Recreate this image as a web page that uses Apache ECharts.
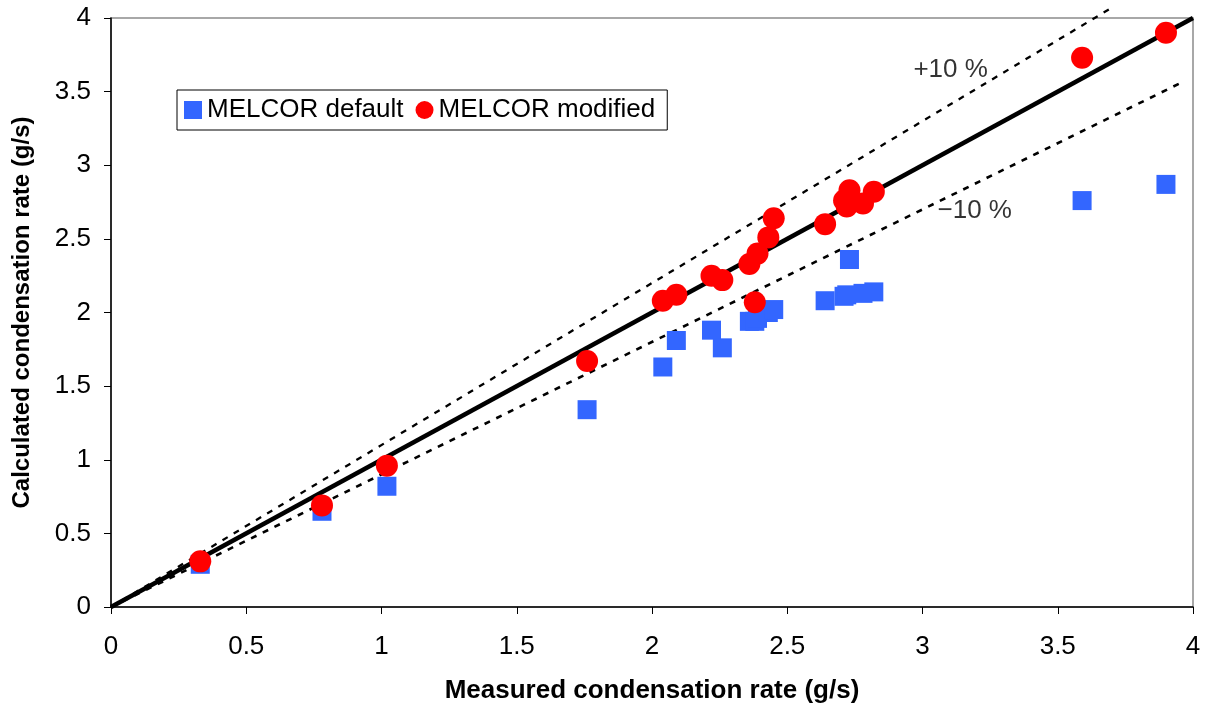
<!DOCTYPE html>
<html>
<head>
<meta charset="utf-8">
<script src="https://cdn.jsdelivr.net/npm/echarts@6/dist/echarts.min.js"></script>
<style>html,body{margin:0;padding:0;background:#fff}#c{width:1205px;height:710px}</style>
</head>
<body>
<div id="c"></div>
<script>
// Measured condensation rate (g/s)
const measured = [0.33, 0.78, 1.02, 1.76, 2.04, 2.09, 2.22, 2.26, 2.36, 2.38, 2.39, 2.43, 2.45, 2.64, 2.71, 2.72, 2.73, 2.78, 2.82, 3.59, 3.90];
// Calculated, MELCOR default
const melcorDefault = [0.29, 0.65, 0.82, 1.34, 1.63, 1.81, 1.88, 1.76, 1.94, 1.94, 1.96, 2.00, 2.02, 2.08, 2.11, 2.12, 2.36, 2.13, 2.14, 2.76, 2.87];
// Calculated, MELCOR modified
const melcorModified = [0.31, 0.69, 0.96, 1.67, 2.08, 2.12, 2.25, 2.22, 2.33, 2.07, 2.40, 2.51, 2.64, 2.60, 2.76, 2.72, 2.83, 2.74, 2.82, 3.73, 3.90];
// Reference lines
const identityLine = [[0, 0], [4, 4]];
const plus10Line = [[0, 0], [3.7, 4.07]];
const minus10Line = [[0, 0], [3.97, 3.573]];
const annotations = [{ value: [3.104, 3.647], text: '+10 %' }, { value: [3.193, 2.689], text: '\u221210 %' }];
const xTicks = { min: 0, max: 4, interval: 0.5 };
const yTicks = { min: 0, max: 4, interval: 0.5 };

const FONT = "'Liberation Sans', Arial, sans-serif";
const chart = echarts.init(document.getElementById('c'));
chart.setOption({
  animation: false,
  backgroundColor: '#fff',
  textStyle: { fontFamily: FONT },
  grid: { left: 111, right: 12, top: 18, bottom: 103, containLabel: false, outerBoundsMode: 'none',
    show: true, borderColor: '#8c8c8c', borderWidth: 1.5, backgroundColor: 'transparent' },
  legend: {
    left: 177, top: 90,
    data: ['MELCOR default', 'MELCOR modified'],
    borderColor: '#000', borderWidth: 1, padding: [7, 12, 7, 7],
    itemWidth: 18, itemHeight: 18, itemGap: 12,
    textStyle: { fontSize: 26, color: '#000', fontFamily: FONT }
  },
  xAxis: {
    type: 'value', min: xTicks.min, max: xTicks.max, interval: xTicks.interval,
    name: 'Measured condensation rate (g/s)', nameLocation: 'middle', nameGap: 71,
    nameTextStyle: { fontSize: 26, fontWeight: 'bold', color: '#000', fontFamily: FONT },
    axisLine: { lineStyle: { color: '#000', width: 1.5 } },
    axisTick: { inside: false, length: 7, lineStyle: { color: '#000' } },
    axisLabel: { fontSize: 26, color: '#000', margin: 27, fontFamily: FONT },
    splitLine: { show: false }
  },
  yAxis: {
    type: 'value', min: yTicks.min, max: yTicks.max, interval: yTicks.interval,
    name: 'Calculated condensation rate (g/s)', nameLocation: 'middle', nameGap: 77, nameRotate: 90,
    nameTextStyle: { fontSize: 24, fontWeight: 'bold', color: '#000', fontFamily: FONT },
    axisLine: { lineStyle: { color: '#000', width: 1.5 } },
    axisTick: { inside: false, length: 7, lineStyle: { color: '#000' } },
    axisLabel: { fontSize: 26, color: '#000', margin: 20, fontFamily: FONT },
    splitLine: { show: false }
  },
  series: [
    { type: 'line', data: plus10Line, symbol: 'none', clip: false, silent: true, z: 1,
      lineStyle: { color: '#000', width: 2.3, type: [6, 7] } },
    { type: 'line', data: minus10Line, symbol: 'none', clip: false, silent: true, z: 1,
      lineStyle: { color: '#000', width: 2.6, type: [6, 7] } },
    { type: 'line', data: identityLine, symbol: 'none', silent: true, z: 1,
      lineStyle: { color: '#000', width: 4.5 } },
    { name: 'MELCOR default', type: 'scatter', symbol: 'rect', symbolSize: 19, z: 3,
      itemStyle: { color: '#3366FF', opacity: 1 },
      data: measured.map((x, i) => [x, melcorDefault[i]]) },
    { name: 'MELCOR modified', type: 'scatter', symbol: 'circle', symbolSize: 22, z: 4,
      itemStyle: { color: '#FF0000', opacity: 1 },
      data: measured.map((x, i) => [x, melcorModified[i]]) },
    { type: 'scatter', symbolSize: 1, silent: true, z: 5,
      itemStyle: { color: 'rgba(0,0,0,0)' },
      data: annotations.map(a => ({ value: a.value, name: a.text })),
      label: { show: true, position: 'inside', formatter: p => p.name, fontSize: 26, color: '#000', textBorderWidth: 0, fontFamily: FONT } }
  ]
});
</script>
</body>
</html>
